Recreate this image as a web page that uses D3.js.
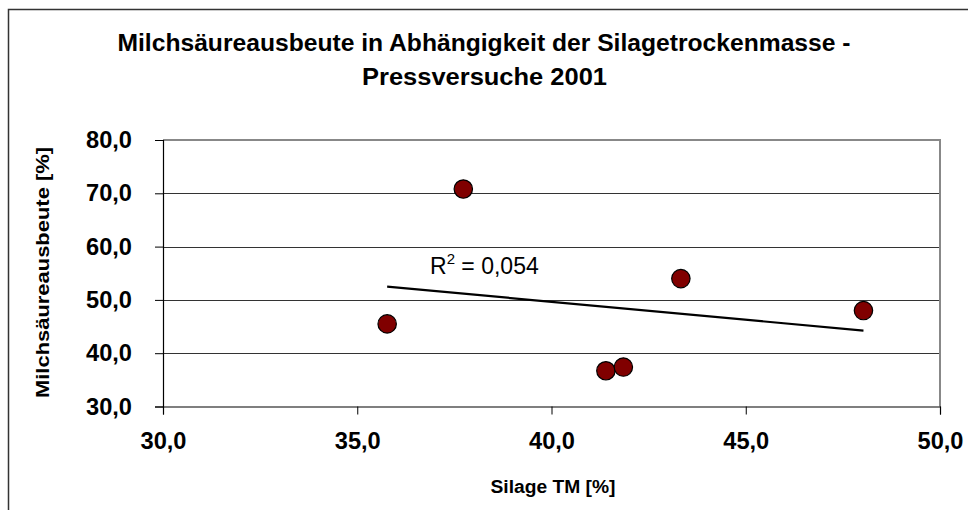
<!DOCTYPE html>
<html><head><meta charset="utf-8">
<script src="https://cdn.jsdelivr.net/npm/d3@7"></script>
<style>html,body{margin:0;padding:0;background:#fff;}svg{display:block;font-family:"Liberation Sans",Arial,sans-serif;}</style>
</head><body><svg id="c" width="968" height="510"></svg>
<script>
const titleLines = ["Milchsäureausbeute in Abhängigkeit der Silagetrockenmasse -", "Pressversuche 2001"];
const xTitle = "Silage TM [%]";
const yTitle = "Milchsäureausbeute [%]";
const silageTM = [35.77, 37.73, 41.40, 41.85, 43.33, 48.03];
const milchsaeure = [45.5, 70.8, 36.7, 37.4, 54.0, 48.0];
const xTicks = [30, 35, 40, 45, 50];
const yTicks = [30, 40, 50, 60, 70, 80];
const r2Label = "0,054";

const svg = d3.select("#c");
const L = 163, R = 940, T = 140, B = 406.5;
const x = d3.scaleLinear().domain([30, 50]).range([L, R]);
const y = d3.scaleLinear().domain([30, 80]).range([B, T]);
const fmt = v => d3.format(".1f")(v).replace(".", ",");

svg.append("rect").attr("width", 968).attr("height", 510).attr("fill", "#fff");
// outer chart frame
svg.append("rect").attr("x", 8.5).attr("y", 9.5).attr("width", 1200).attr("height", 1000)
  .attr("fill", "none").attr("stroke", "#333").attr("stroke-width", 1.5);

// title
svg.append("text").attr("x", 484).attr("y", 51).attr("text-anchor", "middle")
  .attr("font-size", 23).attr("font-weight", "bold").attr("textLength", 733).attr("lengthAdjust", "spacingAndGlyphs")
  .text(titleLines[0]);
svg.append("text").attr("x", 484.5).attr("y", 85).attr("text-anchor", "middle")
  .attr("font-size", 23).attr("font-weight", "bold").attr("textLength", 245).attr("lengthAdjust", "spacingAndGlyphs")
  .text(titleLines[1]);

// gridlines
svg.append("g").selectAll("line").data(yTicks.filter(d => d !== 30 && d !== 80)).join("line")
  .attr("x1", L).attr("x2", R).attr("y1", d => Math.round(y(d)) + 0.5).attr("y2", d => Math.round(y(d)) + 0.5)
  .attr("stroke", "#333").attr("stroke-width", 1);
// plot border top/right
svg.append("path").attr("d", `M${L},${T}H${R}V${B}`).attr("fill", "none").attr("stroke", "#888").attr("stroke-width", 2);

// axes
const yAxis = d3.axisLeft(y).tickValues(yTicks).tickSize(8).tickPadding(23).tickFormat(fmt);
const gy = svg.append("g").attr("transform", `translate(${L},0)`).call(yAxis);
const xAxis = d3.axisBottom(x).tickValues(xTicks).tickSize(8).tickPadding(17).tickFormat(fmt);
const gx = svg.append("g").attr("transform", `translate(0,${B})`).call(xAxis);
[gy, gx].forEach(g => {
  g.select(".domain").attr("stroke", "#000").attr("stroke-width", 1.2);
  g.selectAll(".tick line").attr("stroke", "#000").attr("stroke-width", 1);
  g.selectAll(".tick text").attr("font-size", 24).attr("font-weight", "bold").attr("fill", "#000")
    .attr("font-family", "'Liberation Sans',Arial,sans-serif")
    .attr("textLength", 46).attr("lengthAdjust", "spacingAndGlyphs");
});
gx.selectAll(".tick text").attr("dy", "0.71em");

// axis titles
svg.append("text").attr("x", 553).attr("y", 493).attr("text-anchor", "middle")
  .attr("font-size", 18).attr("font-weight", "bold").attr("textLength", 125).attr("lengthAdjust", "spacingAndGlyphs")
  .text(xTitle);
svg.append("text").attr("transform", "translate(49,272.5) rotate(-90)").attr("text-anchor", "middle")
  .attr("font-size", 19).attr("font-weight", "bold").attr("textLength", 251).attr("lengthAdjust", "spacingAndGlyphs")
  .text(yTitle);

// linear trend
const n = silageTM.length;
const mx = d3.mean(silageTM), my = d3.mean(milchsaeure);
let sxy = 0, sxx = 0;
for (let i = 0; i < n; i++) { sxy += (silageTM[i] - mx) * (milchsaeure[i] - my); sxx += (silageTM[i] - mx) ** 2; }
const slope = sxy / sxx, icpt = my - slope * mx;
const [x0, x1] = d3.extent(silageTM);
svg.append("line").attr("x1", x(x0)).attr("y1", y(icpt + slope * x0)).attr("x2", x(x1)).attr("y2", y(icpt + slope * x1))
  .attr("stroke", "#000").attr("stroke-width", 2.2);

// R² label
const rt = svg.append("text").attr("x", 430).attr("y", 274).attr("font-size", 23).attr("fill", "#000");
rt.append("tspan").text("R");
rt.append("tspan").attr("font-size", 15).attr("dy", -10).text("2");
rt.append("tspan").attr("dy", 10).text(" = " + r2Label);

// points
svg.append("g").selectAll("circle").data(d3.range(n)).join("circle")
  .attr("cx", i => x(silageTM[i])).attr("cy", i => y(milchsaeure[i])).attr("r", 9.2)
  .attr("fill", "#800000").attr("stroke", "#000").attr("stroke-width", 1.2);
</script></body></html>
